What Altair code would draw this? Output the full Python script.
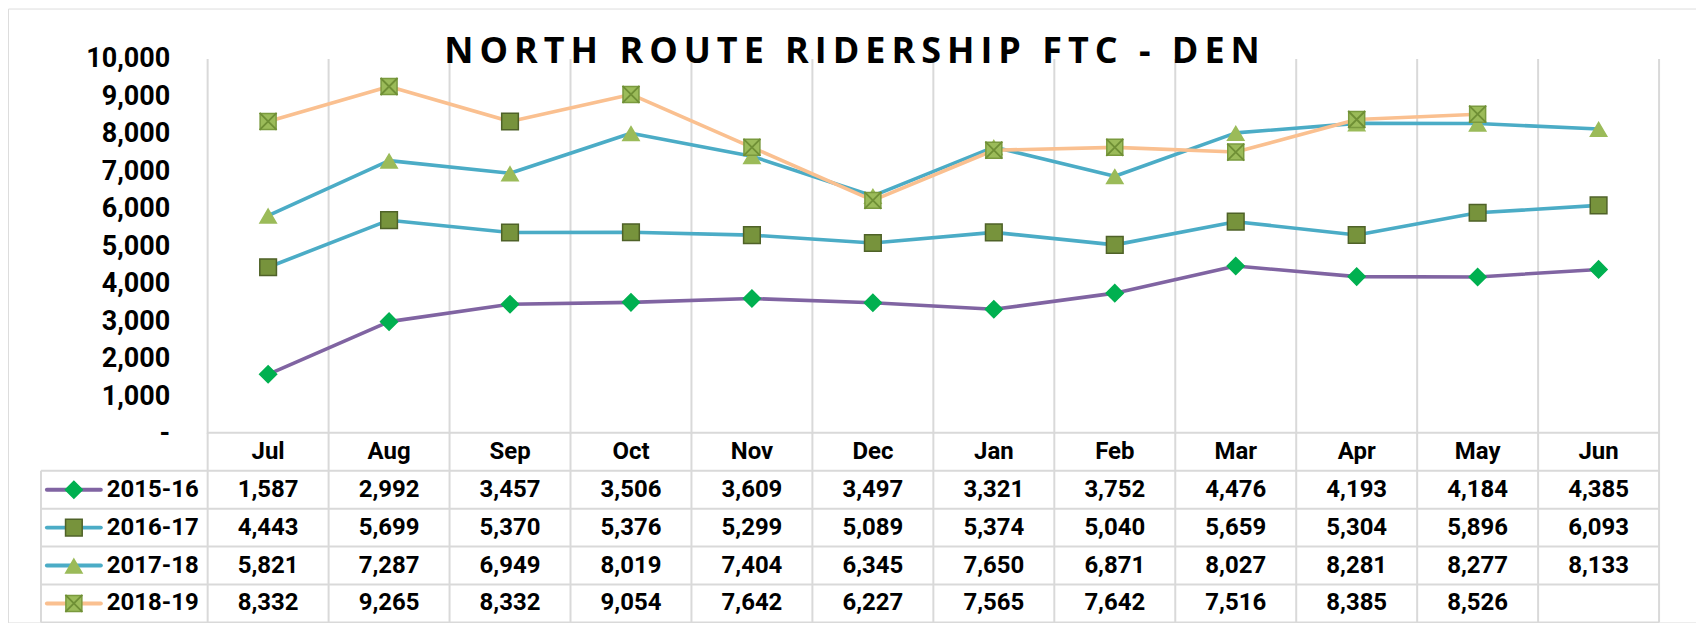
import altair as alt
import pandas as pd

# ---------------- data ----------------
months = ["Jul", "Aug", "Sep", "Oct", "Nov", "Dec", "Jan", "Feb", "Mar", "Apr", "May", "Jun"]
seasons = ["2015-16", "2016-17", "2017-18", "2018-19"]
riders_2015_16 = [1587, 2992, 3457, 3506, 3609, 3497, 3321, 3752, 4476, 4193, 4184, 4385]
riders_2016_17 = [4443, 5699, 5370, 5376, 5299, 5089, 5374, 5040, 5659, 5304, 5896, 6093]
riders_2017_18 = [5821, 7287, 6949, 8019, 7404, 6345, 7650, 6871, 8027, 8281, 8277, 8133]
riders_2018_19 = [8332, 9265, 8332, 9054, 7642, 6227, 7565, 7642, 7516, 8385, 8526, None]
y_ticks = [0, 1000, 2000, 3000, 4000, 5000, 6000, 7000, 8000, 9000, 10000]
title_text = "NORTH ROUTE RIDERSHIP FTC - DEN"
# a single point in the source is drawn with another series' marker
marker_override = {("2018-19", "Sep"): "2016-17"}

# ---------------- styles ----------------
line_colors = ["#8064A2", "#4BACC6", "#4BACC6", "#FAC090"]
TRI = "M0,-0.8L1,0.9L-1,0.9Z"
XPATH = "M-1,-1L1,1M-1,1L1,-1"
marker_shapes = ["diamond", "square", TRI, "square"]
marker_fill = ["#00B050", "#77933C", "#9BBB59", "#9BBB59"]
marker_stroke = ["#00B050", "#4F6228", "#9BBB59", "#7A9A3E"]
marker_size = [290, 256, 330, 324]
GRID = "#D9D9D9"
FONT = "Roboto"

W, H = 1691, 615
X_RANGE = [200, 1654]
YV_RANGE = [426, 50.5]
YT_RANGE = [425, 615]
LEG_LEFT, LEG_L0, LEG_L1, LEG_SYM, LEG_TXT = -1.878, -1.829, -1.383, -1.606, -1.3335

n_m = len(months)
n_r = len(seasons) + 1  # header + data rows

series = [riders_2015_16, riders_2016_17, riders_2017_18, riders_2018_19]
rows = []
for si, (s, vals) in enumerate(zip(seasons, series)):
    for mi, (m, v) in enumerate(zip(months, vals)):
        rows.append({"season": s, "month": m, "m": mi, "value": v, "row": si + 1,
                     "mstyle": marker_override.get((s, m), s)})
df = pd.DataFrame(rows).dropna(subset=["value"])

bounds = [i - 0.5 for i in range(n_m + 1)]
vmin, vmax = y_ticks[0], y_ticks[-1]


def X(field):
    return alt.X(field, type="quantitative",
                 scale=alt.Scale(domain=[-0.5, n_m - 0.5], range=X_RANGE, nice=False, zero=False),
                 axis=None)


def YV(field, axis=None):
    return alt.Y(field, type="quantitative",
                 scale=alt.Scale(domain=[vmin, vmax], range=YV_RANGE, nice=False, zero=False),
                 axis=axis)


def YT(field):
    return alt.Y(field, type="quantitative",
                 scale=alt.Scale(domain=[-0.5, n_r - 0.5], range=YT_RANGE, nice=False, zero=False),
                 axis=None)


mstyle_enc = dict(
    shape=alt.Shape("mstyle:N", scale=alt.Scale(domain=seasons, range=marker_shapes), legend=None),
    fill=alt.Fill("mstyle:N", scale=alt.Scale(domain=seasons, range=marker_fill), legend=None),
    stroke=alt.Stroke("mstyle:N", scale=alt.Scale(domain=seasons, range=marker_stroke), legend=None),
    size=alt.Size("mstyle:N", scale=alt.Scale(domain=seasons, range=marker_size), legend=None),
)
color_enc = alt.Color("season:N", scale=alt.Scale(domain=seasons, range=line_colors), legend=None)

# plot-area vertical gridlines
gp = pd.DataFrame({"x": bounds, "y0": vmin, "y1": vmax})
grid_plot = alt.Chart(gp).mark_rule(color=GRID, strokeWidth=2).encode(
    x=X("x"), y=YV("y0"), y2="y1")

# table vertical lines
tv = pd.DataFrame({"x": bounds + [LEG_LEFT],
                   "r0": [-0.5] * len(bounds) + [0.5],
                   "r1": [n_r - 0.5] * (len(bounds) + 1)})
grid_tv = alt.Chart(tv).mark_rule(color=GRID, strokeWidth=2).encode(
    x=X("x"), y=YT("r0"), y2="r1")

# table horizontal lines
rb = [r - 0.5 for r in range(n_r + 1)]
th = pd.DataFrame({"r": rb, "x0": [-0.5] + [LEG_LEFT] * (len(rb) - 1), "x1": n_m - 0.5})
grid_th = alt.Chart(th).mark_rule(color=GRID, strokeWidth=2).encode(
    y=YT("r"), x=X("x0"), x2="x1")

yaxis = alt.Axis(values=y_ticks, orient="left", offset=-162, ticks=False, tickSize=0,
                 domain=False, grid=False, labelPadding=0, title=None,
                 labelFont=FONT, labelFontSize=27, labelFontWeight="bold", labelColor="#000000",
                 labelExpr="datum.value === 0 ? '-\u00a0\u00a0' : format(datum.value, ',')")

lines = alt.Chart(df).mark_line(strokeWidth=3.6, strokeJoin="round").encode(
    x=X("m"), y=YV("value", yaxis), color=color_enc, detail="season:N")

points = alt.Chart(df).mark_point(filled=True, opacity=1, strokeWidth=1.5).encode(
    x=X("m"), y=YV("value"), **mstyle_enc)

xover = alt.Chart(df).transform_filter(alt.datum.mstyle == seasons[3]).mark_point(
    shape=XPATH, filled=False, opacity=1, color="#6F8F35", stroke="#6F8F35", strokeWidth=1.8, size=290
).encode(x=X("m"), y=YV("value"))

# table header (months)
hdr = pd.DataFrame({"m": range(n_m), "month": months, "row": 0})
header = alt.Chart(hdr).mark_text(font=FONT, fontSize=24, fontWeight="bold", color="#000000",
                                  baseline="middle").encode(
    x=X("m"), y=YT("row"), text="month:N")

values = alt.Chart(df).mark_text(font=FONT, fontSize=24, fontWeight="bold", color="#000000",
                                 baseline="middle").encode(
    x=X("m"), y=YT("row"), text=alt.Text("value:Q", format=","))

# legend column
leg = pd.DataFrame({"season": seasons, "mstyle": seasons, "row": range(1, n_r),
                    "x0": LEG_L0, "x1": LEG_L1, "xs": LEG_SYM, "xt": LEG_TXT})
leg_lines = alt.Chart(leg).mark_rule(strokeWidth=4, strokeCap="round").encode(
    x=X("x0"), x2="x1", y=YT("row"), color=color_enc)
leg_pts = alt.Chart(leg).mark_point(filled=True, opacity=1, strokeWidth=1.5).encode(
    x=X("xs"), y=YT("row"), **mstyle_enc)
leg_x = alt.Chart(leg).transform_filter(alt.datum.mstyle == seasons[3]).mark_point(
    shape=XPATH, filled=False, opacity=1, color="#6F8F35", stroke="#6F8F35", strokeWidth=1.8, size=290
).encode(x=X("xs"), y=YT("row"))
leg_txt = alt.Chart(leg).mark_text(font=FONT, fontSize=24, fontWeight="bold", color="#000000",
                                   align="left", baseline="middle").encode(
    x=X("xt"), y=YT("row"), text="season:N")

spaced_title = "\u2006".join(list(title_text))

chart = alt.layer(
    grid_plot, grid_tv, grid_th, lines, points, xover,
    header, values, leg_lines, leg_pts, leg_x, leg_txt
).resolve_scale(y="independent").properties(
    width=W, height=H, padding=0,
    autosize=alt.AutoSizeParams(type="none"),
    title=alt.TitleParams(spaced_title, font="Open Sans", fontSize=36, fontWeight="bold",
                          color="#000000", anchor="middle", frame="group",
                          baseline="alphabetic", offset=-91),
).configure_view(stroke=GRID, strokeWidth=2.5).configure(background="white")

chart.save("out.html", embed_options={"renderer": "svg", "actions": False})
